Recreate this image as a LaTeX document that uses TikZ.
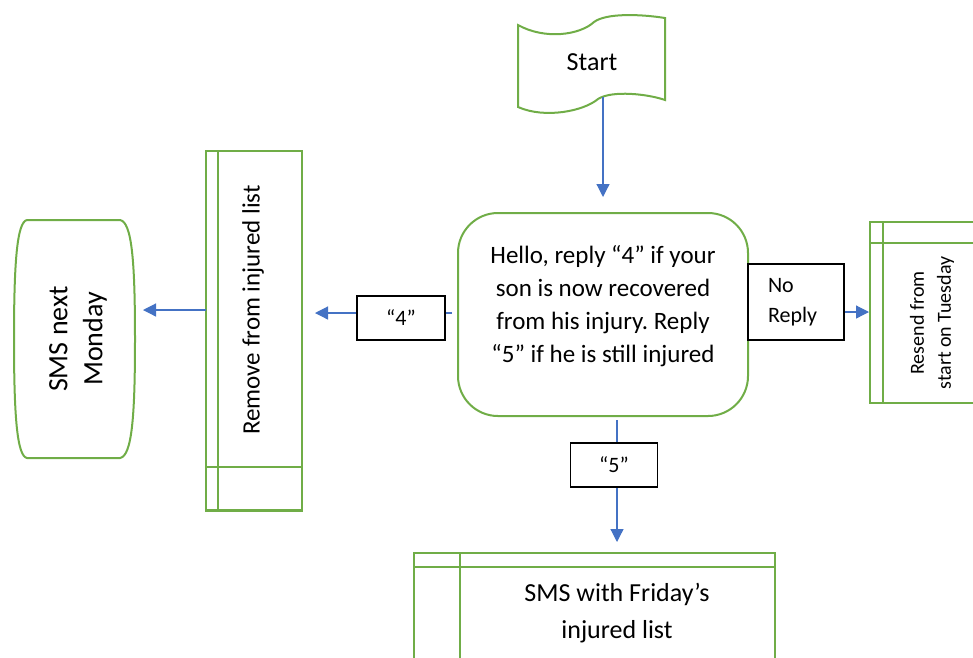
\documentclass[tikz,border=0pt]{standalone}
\usepackage{fontspec}
\setmainfont{Carlito}
\frenchspacing
\usetikzlibrary{arrows.meta,calc}
\definecolor{boxgreen}{HTML}{70AD47}
\definecolor{flowblue}{HTML}{4472C4}
\tikzset{
  gline/.style={draw=boxgreen, line width=2pt},
  labelbox/.style={draw=black, fill=white, line width=1.3pt, inner sep=0pt},
  flow/.style={draw=flowblue, line width=1.2pt, -{Triangle[length=13pt,width=13pt]}},
  plain/.style={inner sep=0pt, outer sep=0pt},
}
\newcommand{\fs}[2]{\fontsize{#1}{#2}\selectfont}
\begin{document}
\begin{tikzpicture}[x=1pt,y=-1pt]
\useasboundingbox (0,0) rectangle (973,657);
\clip (0,0) rectangle (973,657);

% ---- Start (tape shape)
\node[plain, minimum width=147pt, minimum height=70pt] (start) at (591.5,62) {};
\draw[gline] (518,25) .. controls (545,40) and (580,35) .. (594,22)
  .. controls (606,13) and (640,14) .. (665,18) -- (665,100)
  .. controls (648,94) and (612,90) .. (598,99)
  .. controls (584,111) and (545,119) .. (518,107) -- cycle;
\node[plain, font=\fs{26}{32}] (starttxt) at (592,62) {Start};

% ---- Message box
\node[gline, rounded corners=40pt, minimum width=290pt, minimum height=203pt, plain] (msg) at (603,314.5) {};
\node[plain, align=center, font=\fs{25}{33}] (msgtxt) at (603,306) {Hello, reply “4” if your\\ son is now recovered\\ from his injury. Reply\\ “5” if he is still injured};

% ---- Remove from injured list (predefined process)
\node[gline, plain, minimum width=96pt, minimum height=360pt] (remove) at (254,331) {};
\draw[boxgreen, line width=2pt] (218,151) -- (218,511);
\draw[boxgreen, line width=2pt] (206,467) -- (302,467);
\draw[boxgreen, line width=3pt] (206,510) -- (302,510);
\node[plain, rotate=90, font=\fs{25}{31}] (removetxt) at (253,310) {Remove from injured list};

% ---- SMS next Monday
\node[plain, minimum width=120pt, minimum height=238pt] (monday) at (75,339) {};
\draw[gline] (27,220) -- (120,220)
  .. controls (132,222) and (135,262) .. (135,339)
  .. controls (135,416) and (132,456) .. (120,458) -- (27,458)
  .. controls (17,456) and (14,416) .. (14,339)
  .. controls (14,262) and (17,222) .. (27,220) -- cycle;
\node[plain, rotate=90, align=center, font=\fs{28}{35}] (mondaytxt) at (78,339) {SMS next\\ Monday};

% ---- Resend from start on Tuesday
\node[gline, plain, minimum width=130pt, minimum height=181pt] (resend) at (935,312.5) {};
\draw[boxgreen, line width=2pt] (883,222) -- (883,403);
\draw[boxgreen, line width=2pt] (870,243) -- (1000,243);
\node[plain, rotate=90, align=center, font=\fs{20}{27}] (resendtxt) at (932,323) {Resend from\\ start on Tuesday};

% ---- SMS with Friday's injured list
\node[gline, plain, minimum width=361pt, minimum height=140pt] (friday) at (594.5,623) {};
\draw[boxgreen, line width=2pt] (414,567) -- (775,567);
\draw[boxgreen, line width=2pt] (460,553) -- (460,700);
\node[plain, align=center, font=\fs{26}{37}] (fridaytxt) at (617,613) {SMS with Friday’s\\ injured list};

% ---- Connectors
\draw[flow, shorten >=16pt] (start.south -| msg.north) -- (msg.north);
\draw[flow, shorten <=6pt, shorten >=13pt] (msg.west |- 0,313) -- (remove.east |- 0,313);
\draw[flow, shorten >=8pt] (remove.west |- removetxt) -- (monday.east |- removetxt);
\draw[flow, shorten >=1pt] (msg.east |- 0,312) -- (resend.west |- 0,312);
\draw[flow, shorten <=4pt, shorten >=11pt] (msg.south -| fridaytxt) -- (friday.north -| fridaytxt);

% ---- Connector labels
\node[labelbox, minimum width=88pt, minimum height=44pt, font=\fs{22}{27}] (lfour) at (401,318) {“4”};
\node[labelbox, minimum width=87pt, minimum height=44pt, font=\fs{22}{27}] (lfive) at (614,465) {“5”};
\node[labelbox, minimum width=96pt, minimum height=76pt, text width=56pt, inner xsep=20pt, align=left, font=\fs{22}{30}] (noreply) at (796,302) {No\\ Reply};
\end{tikzpicture}
\end{document}
